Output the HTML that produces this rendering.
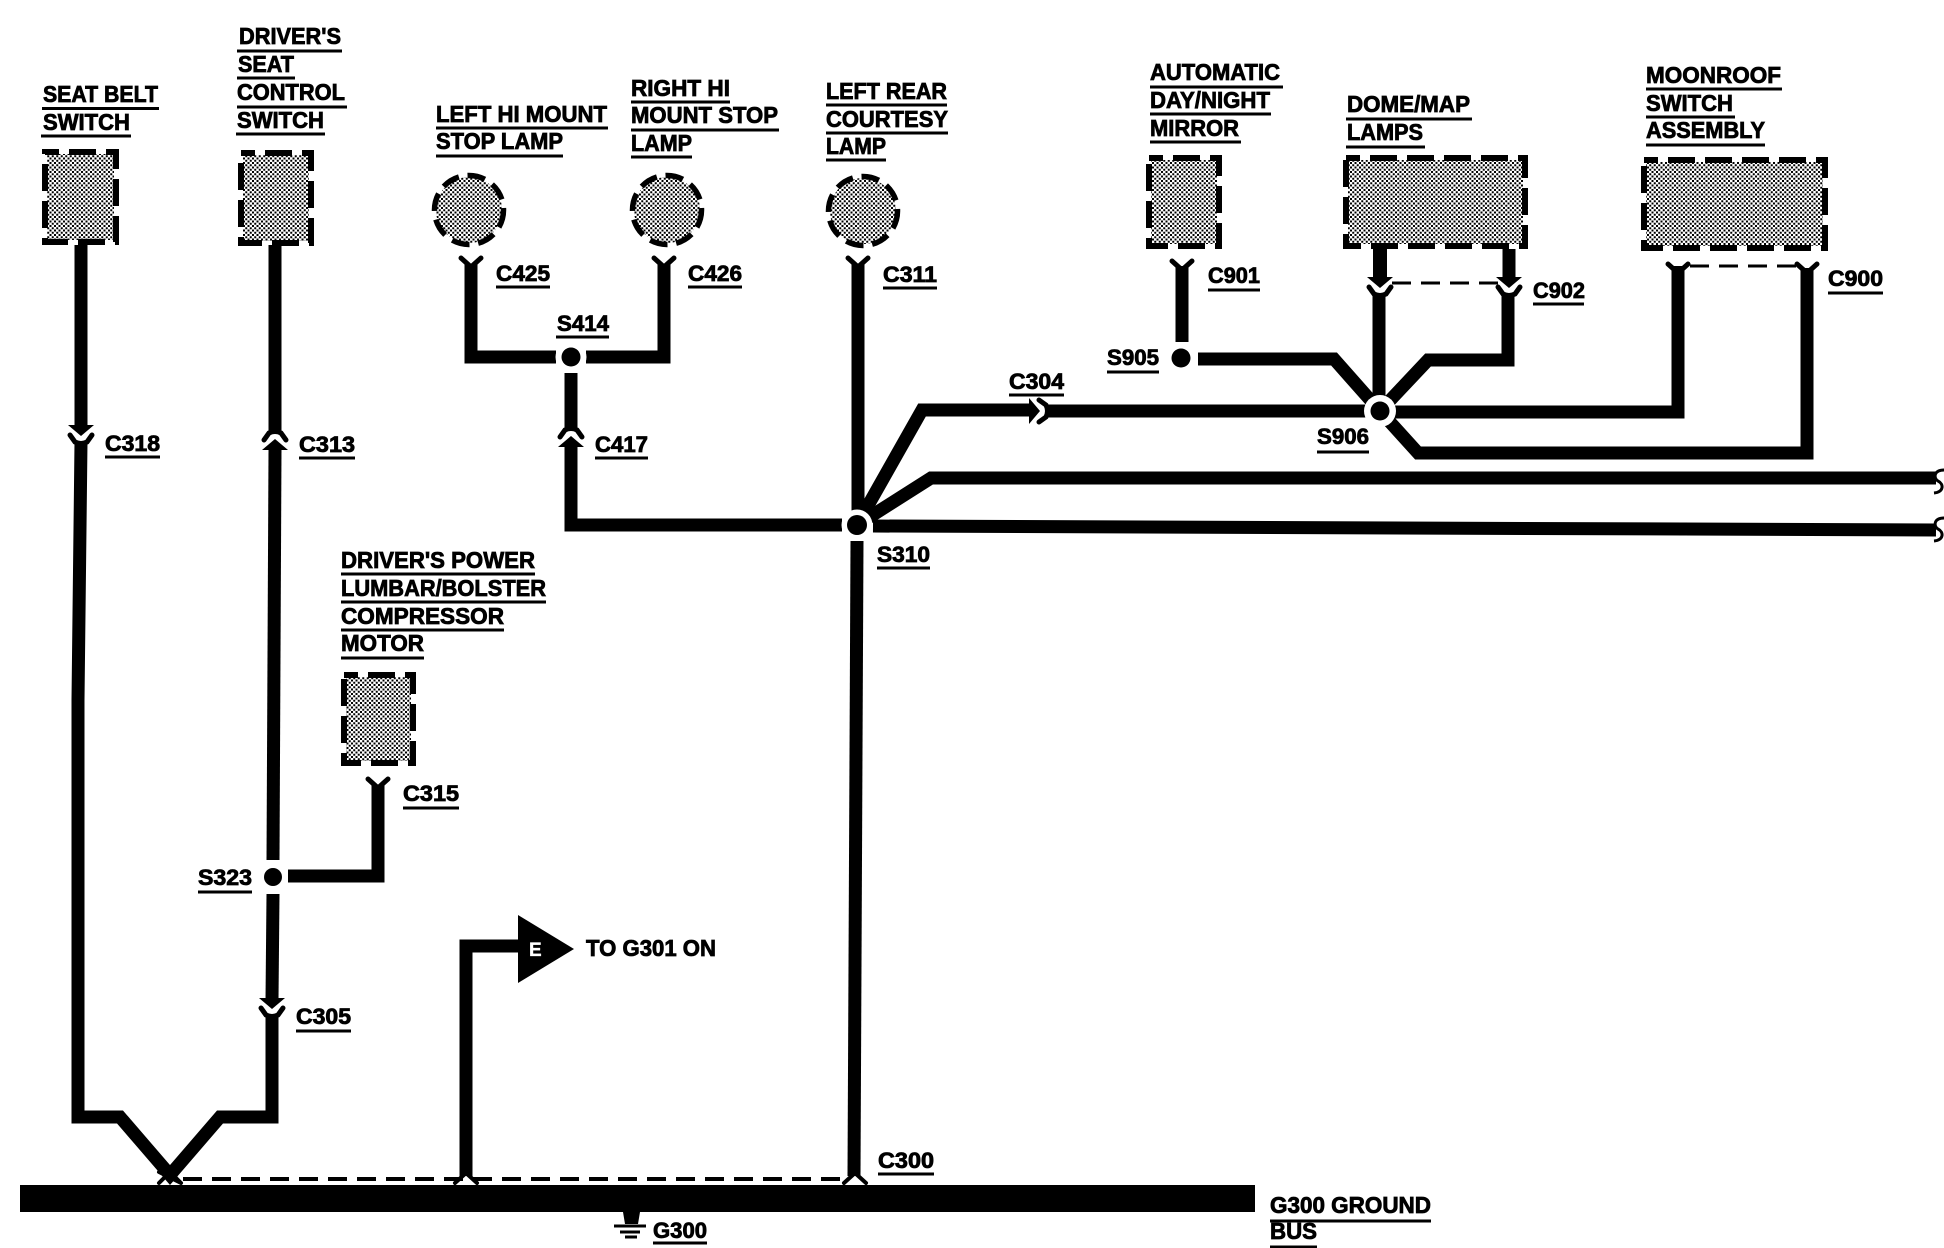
<!DOCTYPE html>
<html>
<head>
<meta charset="utf-8">
<style>
html,body{margin:0;padding:0;background:#fff}
svg{display:block}
text{font-family:"Liberation Sans",Arial,sans-serif;font-weight:bold;font-size:23px;fill:#000;stroke:#000;stroke-width:.8px}
.c{font-size:22px}
.w{fill:none;stroke:#000;stroke-width:13;stroke-linejoin:miter}
.u{fill:none;stroke:#000;stroke-width:3}
.p{fill:url(#dots);stroke:none}
.b{fill:none;stroke:#000;stroke-width:6;stroke-dasharray:27 10;stroke-dashoffset:13}
.l{fill:none;stroke:#000;stroke-width:5.5;stroke-dasharray:18 8.8}
.d{fill:none;stroke:#000;stroke-width:4;stroke-dasharray:19 10}
.f{fill:none;stroke:#000;stroke-width:5;stroke-linecap:round}
</style>
</head>
<body>
<svg xmlns="http://www.w3.org/2000/svg" width="1944" height="1248" viewBox="0 0 1944 1248">
<defs>
<pattern id="dots" width="4.5" height="4.5" patternUnits="userSpaceOnUse">
<rect width="4.5" height="4.5" fill="#fff"/>
<rect x="0" y="0" width="2" height="2" fill="#000"/>
<rect x="2.25" y="2.25" width="2" height="2" fill="#000"/>
</pattern>
<g id="conn">
<path d="M-11,3 L-6,-4 Q0,-7 6,-4 L11,3" fill="none" stroke="#000" stroke-width="5" stroke-linecap="round"/>
<path d="M-13,13 L0,2 L13,13 Z" fill="#000"/>
</g>
<path id="fork" d="M-10,0 L0,9 L10,0" fill="none" stroke="#000" stroke-width="5" stroke-linecap="round"/>
</defs>

<!-- component boxes -->
<rect class="p" x="47" y="154" width="67" height="86"/><rect class="b" x="45" y="152" width="71" height="90"/>
<rect class="p" x="243" y="155" width="66" height="86"/><rect class="b" x="241" y="153" width="70" height="90"/>
<rect class="p" x="346" y="677" width="65" height="84"/><rect class="b" x="344" y="675" width="69" height="88"/>
<rect class="p" x="1151" y="160" width="66" height="84"/><rect class="b" x="1149" y="158" width="70" height="88"/>
<rect class="p" x="1348" y="160" width="175" height="84"/><rect class="b" x="1346" y="158" width="179" height="88"/>
<rect class="p" x="1646" y="162" width="177" height="84"/><rect class="b" x="1644" y="160" width="181" height="88"/>
<circle class="p" cx="469" cy="210" r="33"/><circle class="l" cx="469" cy="210" r="34.5"/>
<circle class="p" cx="667" cy="210" r="33"/><circle class="l" cx="667" cy="210" r="34.5"/>
<circle class="p" cx="863" cy="211" r="33"/><circle class="l" cx="863" cy="211" r="34.5"/>

<!-- wires -->
<path class="w" d="M81,245 V426"/>
<path class="w" d="M81,442 L78,700 V1117 H120 L170,1175 L220,1117 H272 V1016"/>
<path class="w" d="M275,245 V431"/>
<path class="w" d="M275,450 L273,860"/>
<path class="w" d="M273,894 L272,1000"/>
<path class="w" d="M378,785 V876 H288"/>
<path class="w" d="M471,264 V357 H556"/>
<path class="w" d="M664,264 V357 H586"/>
<path class="w" d="M571,373 V428"/>
<path class="w" d="M571,447 V525 H842"/>
<path class="w" d="M858,264 V525"/>
<path class="w" d="M857,541 L854,1176"/>
<path class="w" d="M466,1176 V946 H520"/>
<path class="w" d="M857,525 L922,410 H1030"/>
<path class="w" d="M1048,411 H1380"/>
<path class="w" d="M857,525 L931,478 H1936"/>
<path class="w" d="M873,526 L1936,530"/>
<path class="w" d="M1182,266 V342"/>
<path class="w" d="M1198,359 H1334 L1380,411"/>
<path class="w" d="M1380,249 V278" style="stroke-width:14"/>
<path class="w" d="M1379,296 V411"/>
<path class="w" d="M1509,249 V278"/>
<path class="w" d="M1508,296 V360 H1428 L1380,411"/>
<path class="w" d="M1380,412 H1678 V266"/>
<path class="w" d="M1380,411 L1418,453 H1807 V268"/>

<!-- connectors -->
<use href="#conn" transform="translate(81,438) rotate(180)"/>
<use href="#conn" transform="translate(275,437)"/>
<use href="#conn" transform="translate(571,434)"/>
<use href="#conn" transform="translate(272,1011) rotate(180)"/>
<use href="#conn" transform="translate(1380,290) rotate(180)"/>
<use href="#conn" transform="translate(1509,290) rotate(180)"/>
<use href="#conn" transform="translate(1042,411) rotate(90)"/>
<use href="#fork" x="471" y="258"/>
<use href="#fork" x="664" y="258"/>
<use href="#fork" x="858" y="258"/>
<use href="#fork" x="1182" y="261"/>
<use href="#fork" x="1678" y="264"/>
<use href="#fork" x="1807" y="264"/>
<use href="#fork" x="378" y="779"/>
<path class="f" d="M159,1183 L170,1172 L181,1183 M159,1172 L181,1183" style="stroke-width:4"/>
<path class="f" d="M455,1183 L466,1173 L477,1183" style="stroke-width:4"/>
<path class="f" d="M844,1183 L855,1173 L866,1183" style="stroke-width:4"/>

<!-- dashed links -->
<path class="d" d="M183,1179 H844"/>
<path class="d" d="M1392,283 H1500" style="stroke-width:3"/>
<path class="d" d="M1690,266 H1798" style="stroke-width:3"/>

<!-- splices -->
<circle cx="571" cy="357" r="15.5" fill="#fff"/><circle cx="571" cy="357" r="9.5"/>
<circle cx="857" cy="525" r="15.5" fill="#fff"/><circle cx="857" cy="525" r="10"/>
<circle cx="273" cy="877" r="15" fill="#fff"/><circle cx="273" cy="877" r="9"/>
<circle cx="1181" cy="358" r="16" fill="#fff"/><circle cx="1181" cy="358" r="9.5"/>
<circle cx="1380" cy="411" r="16" fill="#fff"/><circle cx="1380" cy="411" r="9.5"/>

<!-- wire breaks -->
<path d="M1944,470 C1934,470 1933,478 1938,481 C1944,484 1944,492 1934,493" fill="none" stroke="#000" stroke-width="3"/>
<path d="M1944,518 C1934,518 1933,526 1938,529 C1944,532 1944,540 1934,541" fill="none" stroke="#000" stroke-width="3"/>

<!-- flag -->
<path d="M518,915 L574,949 L518,983 Z" fill="#000"/>
<text x="529" y="956" style="font-size:19px;fill:#fff;stroke:#fff;stroke-width:.3px">E</text>

<!-- ground bus -->
<path d="M20,1185 H1255 V1212 H20 Z" fill="#000"/>
<path d="M623,1212 H640 L638,1224 H625 Z" fill="#000"/>
<path d="M614,1226 H646 M620,1232 H640 M625,1237 H637" fill="none" stroke="#000" stroke-width="3"/>

<!-- labels -->
<text x="43" y="102" textLength="115" lengthAdjust="spacingAndGlyphs">SEAT BELT</text>
<text x="43" y="130" textLength="87" lengthAdjust="spacingAndGlyphs">SWITCH</text>
<text x="239" y="44" textLength="102" lengthAdjust="spacingAndGlyphs">DRIVER'S</text>
<text x="238" y="72" textLength="56" lengthAdjust="spacingAndGlyphs">SEAT</text>
<text x="237" y="100" textLength="108" lengthAdjust="spacingAndGlyphs">CONTROL</text>
<text x="237" y="128" textLength="87" lengthAdjust="spacingAndGlyphs">SWITCH</text>
<text x="436" y="122" textLength="171" lengthAdjust="spacingAndGlyphs">LEFT HI MOUNT</text>
<text x="436" y="149" textLength="127" lengthAdjust="spacingAndGlyphs">STOP LAMP</text>
<text x="631" y="96" textLength="99" lengthAdjust="spacingAndGlyphs">RIGHT HI</text>
<text x="631" y="123" textLength="147" lengthAdjust="spacingAndGlyphs">MOUNT STOP</text>
<text x="631" y="151" textLength="61" lengthAdjust="spacingAndGlyphs">LAMP</text>
<text x="826" y="99" textLength="121" lengthAdjust="spacingAndGlyphs">LEFT REAR</text>
<text x="826" y="127" textLength="122" lengthAdjust="spacingAndGlyphs">COURTESY</text>
<text x="826" y="154" textLength="60" lengthAdjust="spacingAndGlyphs">LAMP</text>
<text x="1150" y="80" textLength="130" lengthAdjust="spacingAndGlyphs">AUTOMATIC</text>
<text x="1150" y="108" textLength="120" lengthAdjust="spacingAndGlyphs">DAY/NIGHT</text>
<text x="1150" y="136" textLength="89" lengthAdjust="spacingAndGlyphs">MIRROR</text>
<text x="1347" y="112" textLength="123" lengthAdjust="spacingAndGlyphs">DOME/MAP</text>
<text x="1347" y="140" textLength="76" lengthAdjust="spacingAndGlyphs">LAMPS</text>
<text x="1646" y="83" textLength="135" lengthAdjust="spacingAndGlyphs">MOONROOF</text>
<text x="1646" y="111" textLength="87" lengthAdjust="spacingAndGlyphs">SWITCH</text>
<text x="1646" y="138" textLength="119" lengthAdjust="spacingAndGlyphs">ASSEMBLY</text>
<text x="341" y="568" textLength="194" lengthAdjust="spacingAndGlyphs">DRIVER'S POWER</text>
<text x="341" y="596" textLength="205" lengthAdjust="spacingAndGlyphs">LUMBAR/BOLSTER</text>
<text x="341" y="624" textLength="163" lengthAdjust="spacingAndGlyphs">COMPRESSOR</text>
<text x="341" y="651" textLength="83" lengthAdjust="spacingAndGlyphs">MOTOR</text>
<text x="586" y="956" textLength="130" lengthAdjust="spacingAndGlyphs">TO G301 ON</text>
<text x="1270" y="1213" textLength="161" lengthAdjust="spacingAndGlyphs">G300 GROUND</text>
<text x="1270" y="1239" textLength="47" lengthAdjust="spacingAndGlyphs">BUS</text>

<text class="c" x="105" y="451" textLength="55" lengthAdjust="spacingAndGlyphs">C318</text>
<text class="c" x="299" y="452" textLength="56" lengthAdjust="spacingAndGlyphs">C313</text>
<text class="c" x="403" y="801" textLength="56" lengthAdjust="spacingAndGlyphs">C315</text>
<text class="c" x="198" y="885" textLength="54" lengthAdjust="spacingAndGlyphs">S323</text>
<text class="c" x="296" y="1024" textLength="55" lengthAdjust="spacingAndGlyphs">C305</text>
<text class="c" x="496" y="281" textLength="54" lengthAdjust="spacingAndGlyphs">C425</text>
<text class="c" x="688" y="281" textLength="54" lengthAdjust="spacingAndGlyphs">C426</text>
<text class="c" x="883" y="282" textLength="54" lengthAdjust="spacingAndGlyphs">C311</text>
<text class="c" x="557" y="331" textLength="52" lengthAdjust="spacingAndGlyphs">S414</text>
<text class="c" x="595" y="452" textLength="53" lengthAdjust="spacingAndGlyphs">C417</text>
<text class="c" x="877" y="562" textLength="53" lengthAdjust="spacingAndGlyphs">S310</text>
<text class="c" x="1009" y="389" textLength="55" lengthAdjust="spacingAndGlyphs">C304</text>
<text class="c" x="1208" y="283" textLength="52" lengthAdjust="spacingAndGlyphs">C901</text>
<text class="c" x="1533" y="298" textLength="52" lengthAdjust="spacingAndGlyphs">C902</text>
<text class="c" x="1828" y="286" textLength="55" lengthAdjust="spacingAndGlyphs">C900</text>
<text class="c" x="1107" y="365" textLength="52" lengthAdjust="spacingAndGlyphs">S905</text>
<text class="c" x="1317" y="444" textLength="52" lengthAdjust="spacingAndGlyphs">S906</text>
<text class="c" x="878" y="1168" textLength="56" lengthAdjust="spacingAndGlyphs">C300</text>
<text class="c" x="653" y="1238" textLength="54" lengthAdjust="spacingAndGlyphs">G300</text>

<!-- underlines -->
<path class="u" d="M42,108.5H159 M41,136H131 M237,51H342 M237,78H295 M237,107H347 M236,134H325
M436,128H608 M436,156H563 M631,102H730 M631,130H779 M631,157H692 M826,105H947 M826,133H948 M826,160H886
M1150,87H1283 M1150,114H1271 M1150,142H1241 M1346,119H1472 M1346,147H1425 M1646,89H1782 M1646,117H1735 M1646,145H1765
M341,574H535 M341,602H546 M341,630H504 M341,658H424
M105,457H160 M299,458H355 M403,808H459 M198,892H252 M296,1031H351
M496,287H550 M688,287H742 M883,288H937 M556,337H609 M595,458H648 M877,568H930 M1009,395H1064
M1208,290H1260 M1533,304H1584 M1828,293H1883 M1107,372H1159 M1317,452H1369
M878,1174H934 M653,1243H707 M1270,1221H1431 M1270,1247H1317"/>
</svg>
</body>
</html>
